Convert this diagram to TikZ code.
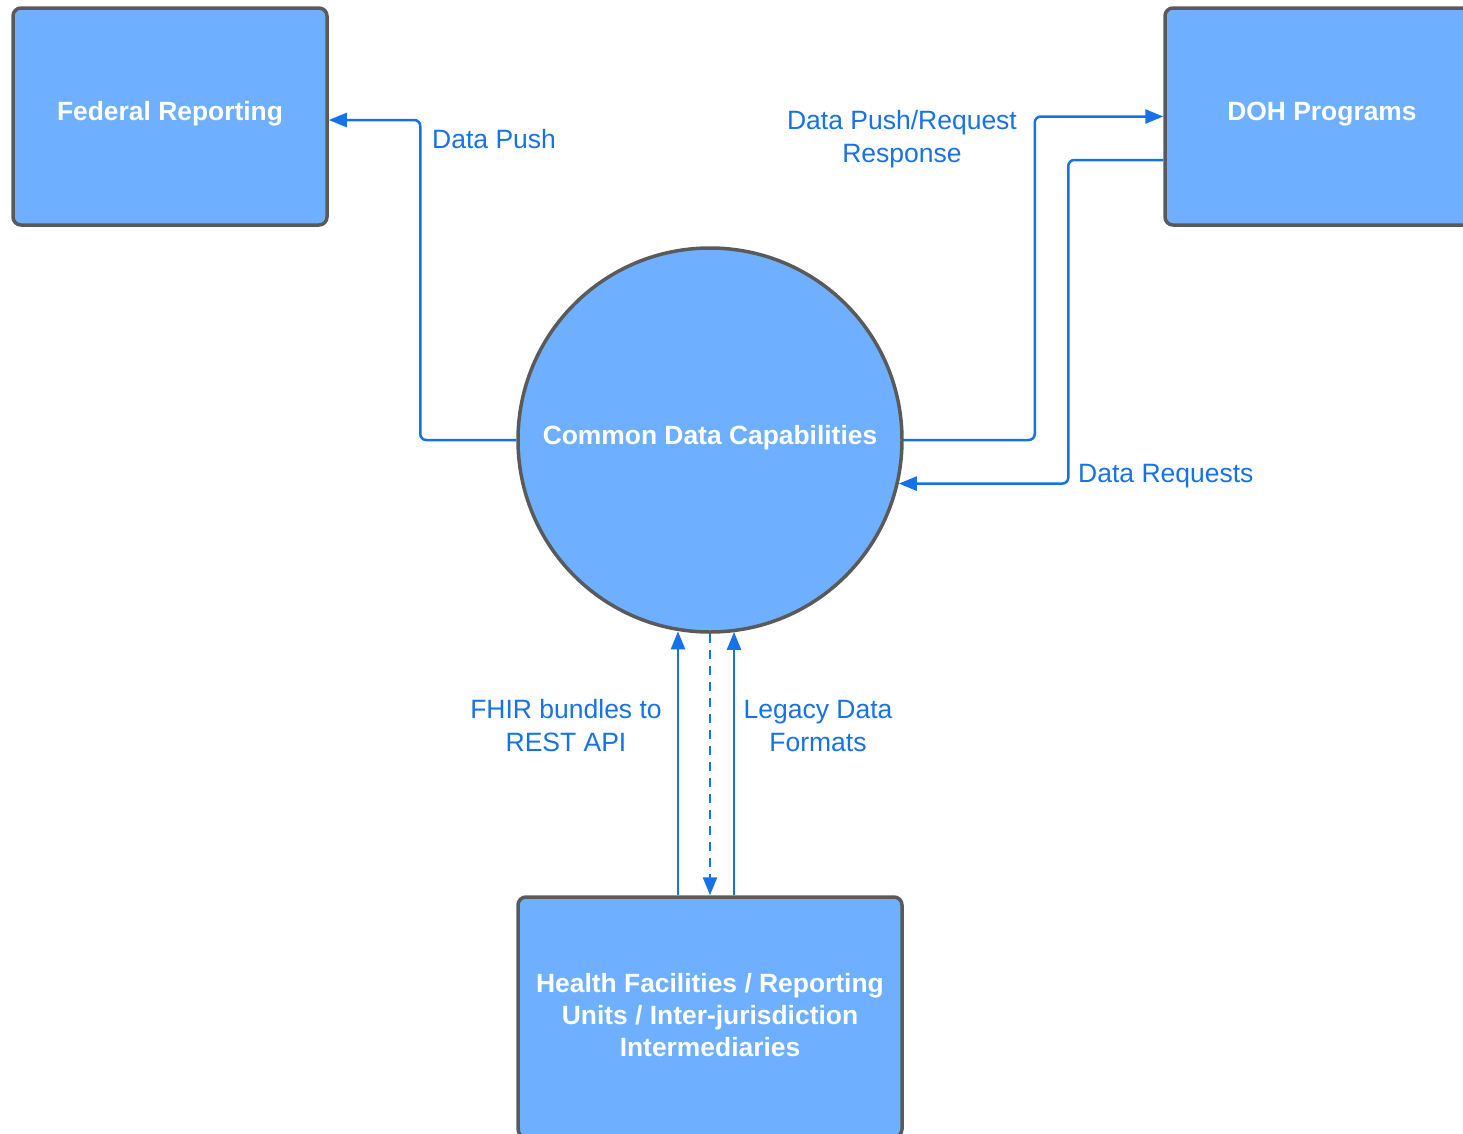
\documentclass[tikz,border=0pt]{standalone}
\usepackage{fontspec}
\setmainfont{Liberation Sans}
\usetikzlibrary{arrows.meta,calc}

\definecolor{boxfill}{RGB}{110,176,255}
\definecolor{boxedge}{RGB}{90,90,90}
\definecolor{flowblue}{RGB}{22,114,230}

\tikzset{
  entity/.style={draw=boxedge, line width=3.5pt, fill=boxfill, rounded corners=8pt,
    text=white, font=\fontsize{26.4}{32}\selectfont\bfseries, align=center, inner sep=0pt},
  process/.style={circle, draw=boxedge, line width=3.5pt, fill=boxfill,
    text=white, font=\fontsize{26.4}{32}\selectfont\bfseries, inner sep=0pt},
  flow/.style={draw=flowblue, line width=2.5pt, rounded corners=6pt,
    -{Triangle[length=18pt,width=14pt]}},
  flowlabel/.style={text=flowblue, font=\fontsize{26.5}{33}\selectfont, align=center, inner sep=0pt}
}

\begin{document}
\begin{tikzpicture}[x=1pt, y=-1pt]
  \useasboundingbox (0,0) rectangle (1463,1133);

  % external entities and the central process
  \node[entity, minimum width=314pt, minimum height=217pt, text depth=11.5pt] (fed) at (170,116.5) {Federal Reporting};
  \node[entity, minimum width=314pt, minimum height=217pt, text depth=10pt] (doh) at (1322,116.5) {DOH Programs};
  \node[process, minimum size=384pt, text depth=9.5pt] (cdc) at (710,440) {Common Data Capabilities};
  \node[entity, minimum width=384pt, minimum height=240pt, text depth=4pt] (hf) at (710,1017)
    {Health Facilities / Reporting\\Units / Inter-jurisdiction\\Intermediaries};

  % attachment points of the three vertical flows on the lower box
  \coordinate (fhirfoot) at ($(hf.north)+(-32,0)$);
  \coordinate (legacyfoot) at ($(hf.north)+(24,0)$);

  % data flows
  \draw[flow] (cdc.west) -- ++(-96,0) |- ($(fed.east)+(0,3.5)$);
  \draw[flow] (cdc.east) -- ++(131,0) |- (doh.west);
  \draw[flow] ($(doh.west)+(0,43.5)$) -- ++(-95,0) |- (cdc.-13.25);
  \draw[flow] (fhirfoot) -- (fhirfoot |- cdc.-99.6);
  \draw[flow, rounded corners=0pt, dash pattern=on 9pt off 7pt] (cdc.south) -- (hf.north);
  \draw[flow] (legacyfoot) -- (legacyfoot |- cdc.-82.8);

  % flow labels
  \node[flowlabel, anchor=west] (lpush) at (432,139.5) {Data Push};
  \node[flowlabel] (lresp) at (902,139) {Data Push/Request\\Response};
  \node[flowlabel, anchor=west] (lreq) at (1078,476.5) {Data Requests};
  \node[flowlabel] (lfhir) at (566,726) {FHIR bundles to\\REST API};
  \node[flowlabel] (llegacy) at (818,726) {Legacy Data\\Formats};
\end{tikzpicture}
\end{document}
